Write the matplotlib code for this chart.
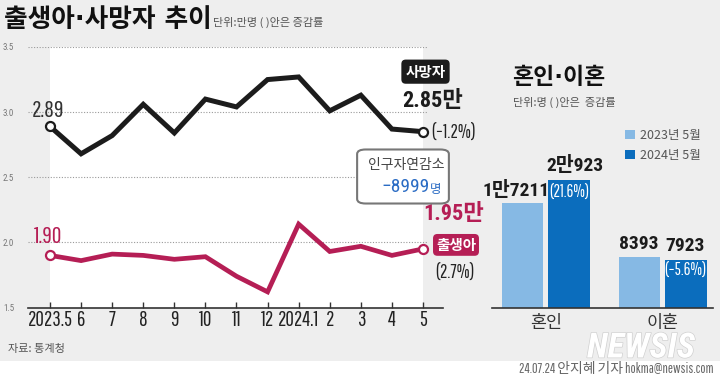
import matplotlib
matplotlib.use('Agg')
import matplotlib.pyplot as plt
from matplotlib.patches import FancyBboxPatch, Rectangle
import matplotlib.patheffects as pe

plt.rcParams['font.family'] = ['Noto Sans CJK KR', 'DejaVu Sans']
plt.rcParams['axes.unicode_minus'] = True

THIN = ['Pathway Gothic One', 'Noto Sans CJK KR', 'DejaVu Sans']
BOLDN = ['Roboto Condensed', 'Noto Sans CJK KR', 'DejaVu Sans']
KR = ['Noto Sans CJK KR', 'DejaVu Sans']
HEAD = ['DejaVu Sans', 'Noto Sans CJK KR']

# data
months = ['2023.5', '6', '7', '8', '9', '10', '11', '12', '2024.1', '2', '3', '4', '5']
deaths = [2.89, 2.68, 2.82, 3.06, 2.84, 3.10, 3.04, 3.25, 3.27, 3.01, 3.13, 2.87, 2.85]
births = [1.90, 1.86, 1.91, 1.90, 1.87, 1.89, 1.74, 1.62, 2.14, 1.93, 1.97, 1.90, 1.95]
y_ticks = [1.5, 2.0, 2.5, 3.0, 3.5]

bar_cats = ['혼인', '이혼']
bar_2023 = [17211, 8393]
bar_2024 = [20923, 7923]
bar_labels_2023 = ['1만7211', '8393']
bar_labels_2024 = ['2만923', '7923']
bar_changes = ['(21.6%)', '(−5.6%)']
legend_labels = ['2023년 5월', '2024년 5월']

BLACK = '#1c1c1c'
CRIMSON = '#b51e55'
LIGHT = '#86b9e4'
DARK = '#0b6dbd'
BG = '#eeeeee'

W, H = 720, 378
fig = plt.figure(figsize=(7.2, 3.78), dpi=100)
fig.patch.set_facecolor(BG)


def box(x0, y0, x1, y1):
    # pixel box (top-left origin) -> figure fraction rect
    return [x0 / W, 1 - y1 / H, (x1 - x0) / W, (y1 - y0) / H]


def ftext(x, y, s, **kw):
    fig.text(x / W, 1 - y / H, s, **kw)


# footer strip
fig.patches.append(Rectangle((0, 0), 1, (H - 361) / H, transform=fig.transFigure,
                             facecolor='white', edgecolor='none', zorder=0))

# ---------------- line chart ----------------
step = (423 - 50) / 12
ax = fig.add_axes(box(28, 47, 480, 307.5))
ax.set_facecolor('none')
ax.set_xlim(-(50 - 28) / step, 12 + (480 - 423) / step)
ax.set_ylim(1.5, 3.5)
xs = list(range(len(months)))

ax.axvspan(0, 12, color='white', zorder=0, lw=0)
ax.hlines(y_ticks[1:], -(50 - 28) / step, 12.13, colors='#9a9a9a', linestyles=(0, (1, 1.5)),
          lw=0.8, zorder=1)

ax.plot(xs, deaths, color=BLACK, lw=3.6, solid_joinstyle='miter', zorder=3)
ax.plot(xs, births, color=CRIMSON, lw=3.4, solid_joinstyle='miter', zorder=3)
for ser, col in ((deaths, BLACK), (births, CRIMSON)):
    ax.plot([xs[0], xs[-1]], [ser[0], ser[-1]], 'o', ms=6.5, mfc='white', mec=col, mew=1.6,
            zorder=4)

for s in ['top', 'right', 'left']:
    ax.spines[s].set_visible(False)
ax.spines['bottom'].set_bounds(-(50 - 28) / step, 12.65)
ax.spines['bottom'].set_color('#333333')
ax.spines['bottom'].set_linewidth(1.2)

ax.set_xticks(xs)
ax.set_xticklabels(months, family=THIN, fontsize=15, color='#222222')
ax.tick_params(axis='x', direction='in', length=4.5, width=1, color='#333333', pad=2)
ax.set_yticks(y_ticks)
ax.set_yticklabels([f'{v:.1f}' for v in y_ticks], family=BOLDN, fontsize=6.5, color='#777777')
ax.tick_params(axis='y', length=0, pad=10)


def label(axis, s, xy, dx, dy, **kw):
    axis.annotate(s, xy=xy, xytext=(dx * 0.72, dy * 0.72), textcoords='offset points',
                  ha='center', va='center', annotation_clip=False, zorder=6, **kw)


label(ax, '2.89', (0, deaths[0]), -2, 16, family=THIN, fontsize=17, color='#333333')
label(ax, '1.90', (0, births[0]), -2, 19, family=THIN, fontsize=17, color=CRIMSON)
label(ax, '2.85만', (12, deaths[-1]), 10, 31, family=BOLDN, fontsize=16, fontweight='bold',
      color=BLACK)
label(ax, '(−1.2%)', (12, deaths[-1]), 31, -1, family=THIN, fontsize=13.5, color='#222222')
label(ax, '사망자', (12, deaths[-1]), 2.5, 60, family=KR, fontsize=10.5, fontweight='bold',
      color='white', bbox=dict(boxstyle='round,pad=0.28,rounding_size=0.3', fc=BLACK, ec='none'))
label(ax, '1.95만', (12, births[-1]), 31, 35, family=BOLDN, fontsize=16, fontweight='bold',
      color=CRIMSON)
label(ax, '출생아', (12, births[-1]), 33, 4, family=KR, fontsize=10.5, fontweight='bold',
      color='white', bbox=dict(boxstyle='round,pad=0.2,rounding_size=0.3', fc=CRIMSON, ec='none'))
label(ax, '(2.7%)', (12, births[-1]), 32, -23, family=THIN, fontsize=13.5, color='#222222')

# natural decrease box
fig.patches.append(FancyBboxPatch((360 / W, 1 - 202 / H), (446 - 360) / W, (202 - 151) / H,
                                  boxstyle='round,pad=0.004,rounding_size=0.012',
                                  transform=fig.transFigure, facecolor='white',
                                  edgecolor='#777777', lw=1.5, zorder=5))
ftext(406, 165, '인구자연감소', family=KR, fontsize=10, color='#444444', ha='center',
      va='center', zorder=6)
ftext(430, 187, '−8999', family=BOLDN, fontsize=14, color='#2b6cc4', ha='right', va='center',
      zorder=6)
ftext(430, 189, '명', family=KR, fontsize=9, color='#2b6cc4', ha='left', va='center', zorder=6)

# ---------------- bar chart ----------------
unit = 662.5 - 545.75
bw = 41.5 / unit
off = 23.25 / unit
bx = fig.add_axes(box(492, 160, 713, 308))
bx.set_facecolor('none')
bx.set_xlim(-(545.75 - 492) / unit, 1 + (713 - 662.5) / unit)
bx.set_ylim(0, 148 / 0.0061)
cx = [0, 1]
b1 = bx.bar([c - off for c in cx], bar_2023, bw, color=LIGHT, label=legend_labels[0])
b2 = bx.bar([c + off for c in cx], bar_2024, bw, color=DARK, label=legend_labels[1])
for s in ['top', 'right', 'left']:
    bx.spines[s].set_visible(False)
bx.spines['bottom'].set_color('#333333')
bx.spines['bottom'].set_linewidth(1.2)
bx.set_yticks([])
bx.set_xticks(cx)
bx.set_xticklabels(bar_cats, family=KR, fontsize=12.5, color='#333333')
bx.tick_params(axis='x', length=0, pad=4)

label(bx, bar_labels_2023[0], (cx[0] - off, bar_2023[0]), -6.5, 12.7, family=BOLDN,
      fontsize=14, fontweight='bold', color=BLACK)
label(bx, bar_labels_2024[0], (cx[0] + off, bar_2024[0]), 5.5, 15, family=BOLDN,
      fontsize=14, fontweight='bold', color=BLACK)
label(bx, bar_changes[0], (cx[0] + off, bar_2024[0]), 0, -12, family=THIN, fontsize=12,
      color='white')
label(bx, bar_labels_2023[1], (cx[1] - off, bar_2023[1]), 0, 13, family=BOLDN,
      fontsize=14, fontweight='bold', color=BLACK)
label(bx, bar_labels_2024[1], (cx[1] + off, bar_2024[1]), -1, 14, family=BOLDN,
      fontsize=14, fontweight='bold', color=BLACK)
label(bx, bar_changes[1], (cx[1] + off, bar_2024[1]), 0, -11, family=THIN, fontsize=12,
      color='white')

leg = bx.legend(handles=[b1, b2], loc='upper left', bbox_to_anchor=(614 / W, 1 - 118 / H),
                bbox_transform=fig.transFigure, frameon=False, handlelength=0.75,
                handleheight=0.75, handletextpad=0.4, labelspacing=0.55,
                prop=dict(family=KR, size=9))
for t in leg.get_texts():
    t.set_color('#555555')

# ---------------- titles / footer ----------------
ftext(4, 20, '출생아·사망자 추이', family=HEAD, fontsize=18.5, fontweight='bold',
      color='#111111', va='center')
ftext(213, 22, '단위:만명 ( )안은 증감률', fontsize=8, color='#555555', va='center')
ftext(512, 77, '혼인·이혼', family=HEAD, fontsize=16.5, fontweight='bold', color='#111111',
      va='center')
ftext(513, 102, '단위:명 ( )안은  증감률', fontsize=8, color='#555555', va='center')
ftext(8, 349, '자료: 통계청', fontsize=8, color='#555555', va='center')
ftext(641, 348, 'NEWSIS', family=BOLDN, fontsize=25, fontweight='bold', fontstyle='italic',
      color='white', ha='center', va='center',
      path_effects=[pe.withStroke(linewidth=1, foreground='#d0d0d0')])
ftext(714, 369, '24.07.24 안지혜 기자 hokma@newsis.com', family=THIN, fontsize=10,
      color='#666666', ha='right', va='center')

fig.savefig('out.png', dpi=100, facecolor=fig.get_facecolor())
